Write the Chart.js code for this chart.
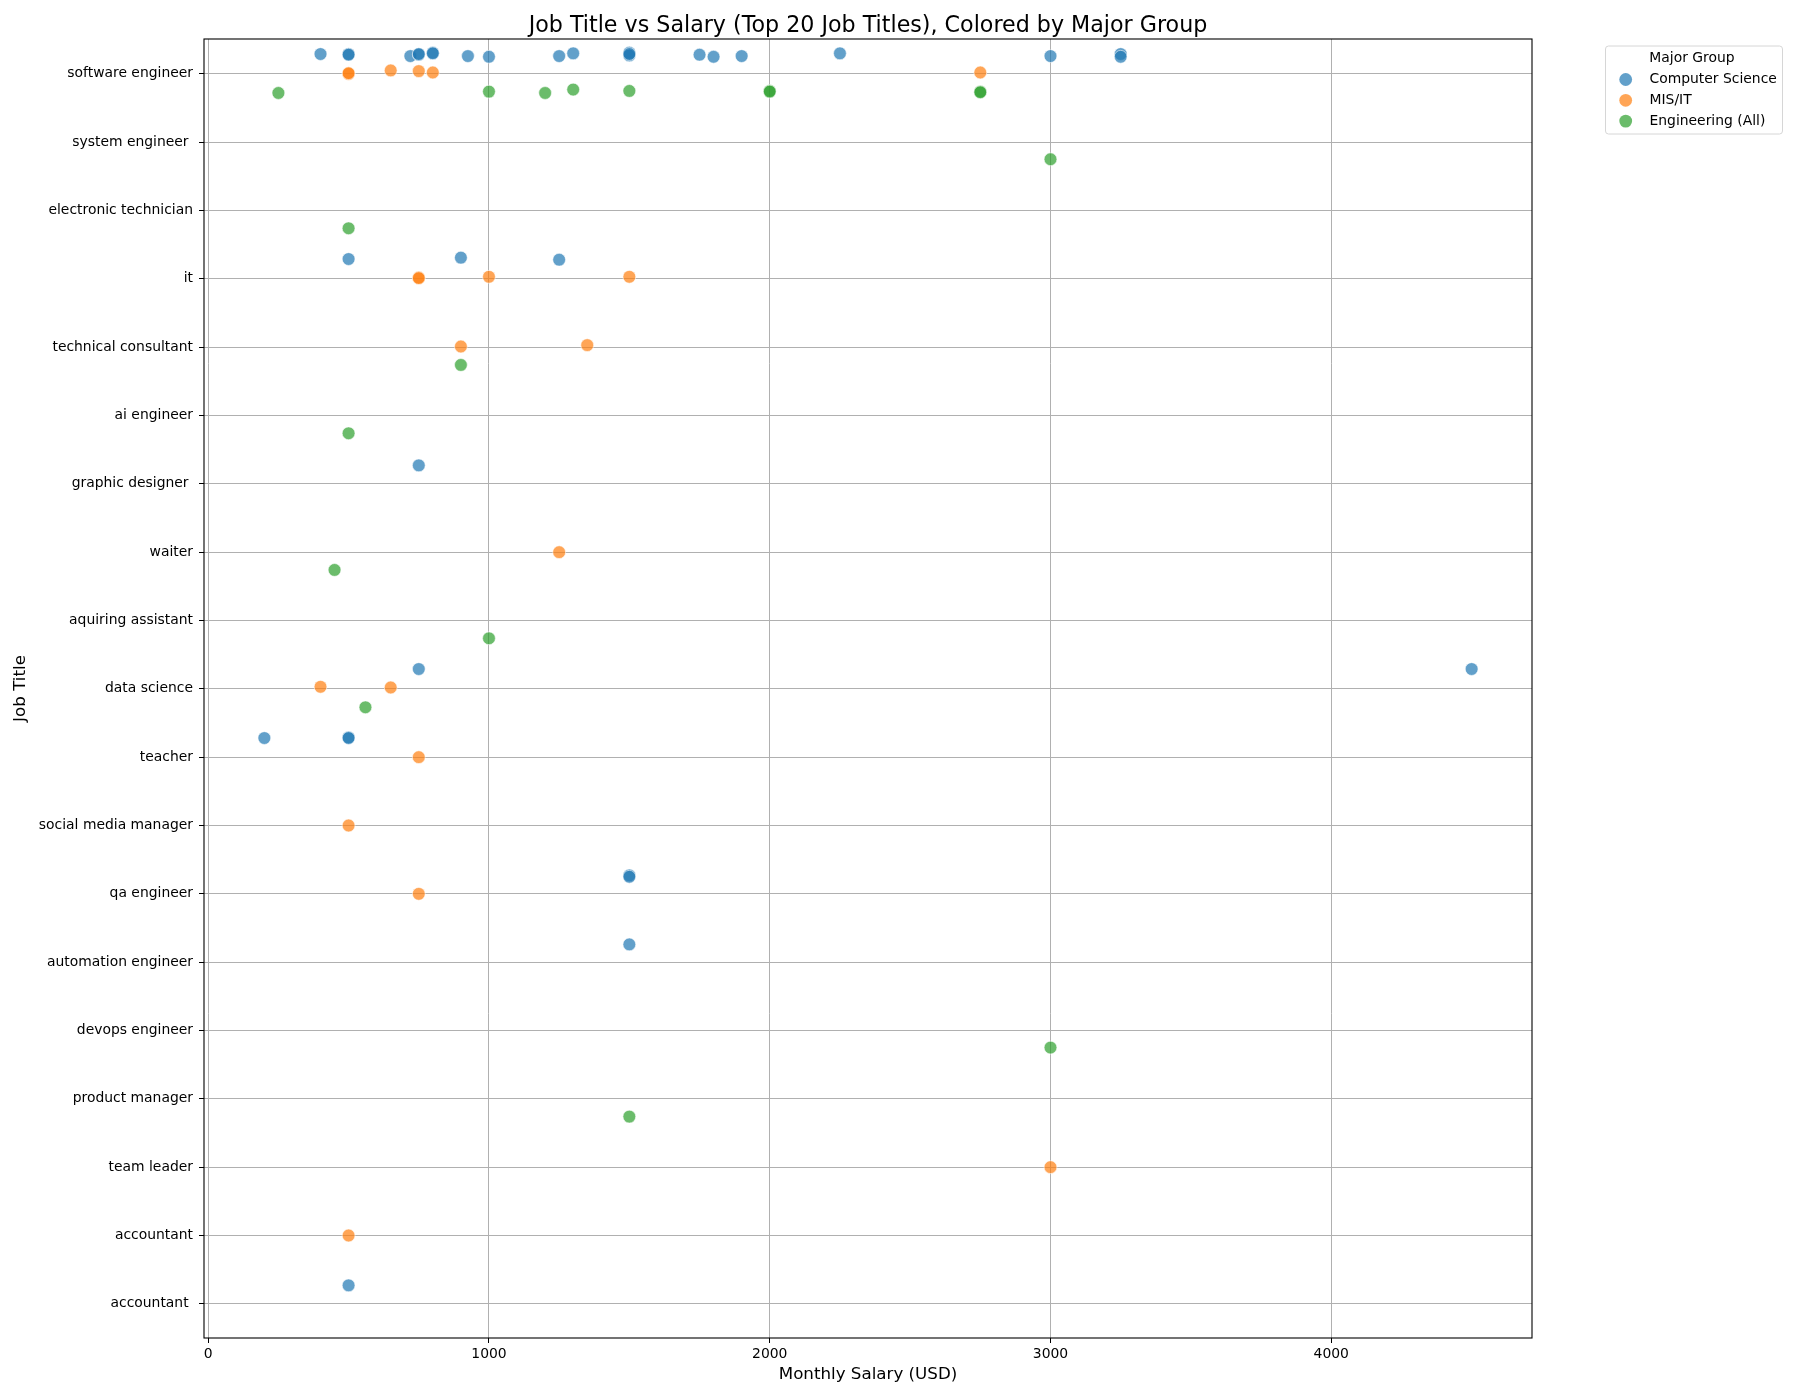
<!doctype html>
<html>
<head>
  <script src="https://cdn.jsdelivr.net/npm/chart.js@4.4.1/dist/chart.umd.min.js"></script>
  <style>
    body { margin: 0; background: #fff; }
  </style>
</head>
<body>
  <canvas id="canvas" width="1800" height="1400"></canvas>
  <script>
    // job titles, top to bottom (trailing spaces are in the source data)
    const jobTitles = [
      'software engineer', 'system engineer ', 'electronic technician', 'it',
      'technical consultant', 'ai engineer', 'graphic designer ', 'waiter',
      'aquiring assistant', 'data science', 'teacher', 'social media manager',
      'qa engineer', 'automation engineer', 'devops engineer', 'product manager',
      'team leader', 'accountant', 'accountant '
    ];
    const majorGroups = ['Computer Science', 'MIS/IT', 'Engineering (All)'];
    const salaryTicks = [0, 1000, 2000, 3000, 4000];

    // Computer Science
    const csSalary = [400, 500, 500, 720, 750, 750, 800, 800, 925, 1000, 1250, 1300, 1500, 1500, 1500,
      1750, 1800, 1900, 2250, 3000, 3250, 3250,
      500, 900, 1250, 750, 750, 4500, 200, 500, 500, 1500, 1500, 1500, 500];
    const csTitle = [0, 0, 0, 0, 0, 0, 0, 0, 0, 0, 0, 0, 0, 0, 0,
      0, 0, 0, 0, 0, 0, 0,
      3, 3, 3, 6, 9, 9, 10, 10, 10, 12, 12, 13, 18];
    const csJitter = [-0.29, -0.29, -0.28, -0.26, -0.28, -0.29, -0.31, -0.30, -0.26, -0.25, -0.26, -0.30, -0.31, -0.27, -0.29,
      -0.28, -0.25, -0.26, -0.30, -0.26, -0.29, -0.25,
      -0.29, -0.31, -0.28, -0.27, -0.29, -0.29, -0.28, -0.29, -0.28, -0.27, -0.25, -0.26, -0.27];

    // MIS/IT
    const misSalary = [500, 500, 650, 750, 800, 2750, 750, 750, 1000, 1500, 900, 1350, 1250, 400, 650, 750, 500, 750, 3000, 500];
    const misTitle = [0, 0, 0, 0, 0, 0, 3, 3, 3, 3, 4, 4, 7, 9, 9, 10, 11, 12, 16, 17];
    const misJitter = [0.00, -0.01, -0.05, -0.04, -0.02, -0.02, -0.02, -0.01, -0.03, -0.03, -0.01, -0.03, 0.00, -0.03, -0.02, 0.00, 0.00, 0.00, 0.00, 0.00];

    // Engineering (All)
    const engSalary = [250, 1000, 1200, 1300, 1500, 2000, 2000, 2750, 2750, 3000, 500, 900, 500, 450, 1000, 560, 3000, 1500];
    const engTitle = [0, 0, 0, 0, 0, 0, 0, 0, 0, 1, 2, 4, 5, 7, 8, 9, 14, 15];
    const engJitter = [0.28, 0.26, 0.28, 0.23, 0.25, 0.25, 0.26, 0.26, 0.27, 0.25, 0.26, 0.26, 0.26, 0.26, 0.26, 0.27, 0.25, 0.26];

    const groupColors = ['31, 119, 180', '255, 127, 14', '44, 160, 44'];
    const FONT = "'DejaVu Sans', sans-serif";

    function points(salary, title, jitter) {
      return salary.map((s, i) => ({ x: s, y: title[i] + jitter[i] }));
    }

    function series(i, data) {
      return {
        label: majorGroups[i],
        data: data,
        pointRadius: 6.4,
        pointHoverRadius: 6.4,
        pointBackgroundColor: 'rgba(' + groupColors[i] + ', 0.7)',
        pointBorderColor: 'rgba(255, 255, 255, 0.7)',
        pointBorderWidth: 0.8,
        order: i
      };
    }

    const decor = {
      id: 'decor',
      afterDatasetsDraw(chart) {
        const ctx = chart.ctx;
        const a = chart.chartArea;
        ctx.save();
        // frame
        ctx.strokeStyle = '#000';
        ctx.lineWidth = 1.1;
        ctx.strokeRect(a.left, a.top, a.right - a.left, a.bottom - a.top);

        // title
        ctx.fillStyle = '#000';
        ctx.font = '22.2px ' + FONT;
        ctx.textAlign = 'center';
        ctx.textBaseline = 'alphabetic';
        ctx.fillText('Job Title vs Salary (Top 20 Job Titles), Colored by Major Group', (a.left + a.right) / 2, 31.5);

        // legend
        const lx = 1605.5, ly = 46, lw = 177, lh = 88;
        ctx.beginPath();
        ctx.roundRect(lx, ly, lw, lh, 3);
        ctx.fillStyle = 'rgba(255, 255, 255, 0.8)';
        ctx.fill();
        ctx.strokeStyle = '#d6d6d6';
        ctx.lineWidth = 1;
        ctx.stroke();
        ctx.fillStyle = '#000';
        ctx.font = '13.9px ' + FONT;
        ctx.textAlign = 'center';
        ctx.textBaseline = 'middle';
        ctx.fillText('Major Group', 1692, 58.5);
        ctx.textAlign = 'left';
        majorGroups.forEach((g, i) => {
          const y = 79.5 + i * 20.8;
          ctx.beginPath();
          ctx.arc(1625.7, y, 6.4, 0, Math.PI * 2);
          ctx.fillStyle = 'rgba(' + groupColors[i] + ', 0.7)';
          ctx.fill();
          ctx.fillStyle = '#000';
          ctx.fillText(g, 1649.5, y);
        });
        ctx.restore();
      }
    };

    new Chart(document.getElementById('canvas').getContext('2d'), {
      type: 'scatter',
      data: {
        datasets: [
          series(0, points(csSalary, csTitle, csJitter)),
          series(1, points(misSalary, misTitle, misJitter)),
          series(2, points(engSalary, engTitle, engJitter))
        ]
      },
      options: {
        responsive: false,
        animation: false,
        devicePixelRatio: 1,
        layout: {
          padding: { left: 0, right: 268, top: 39, bottom: 0 }
        },
        scales: {
          x: {
            type: 'linear',
            min: -15,
            max: 4715,
            afterFit: (scale) => { scale.height = 62; },
            afterBuildTicks: (scale) => { scale.ticks = salaryTicks.map((v) => ({ value: v })); },
            grid: { color: '#b0b0b0', lineWidth: 1, tickColor: '#000', tickLength: 5 },
            border: { display: false },
            ticks: {
              color: '#000',
              font: { family: FONT, size: 13.9 },
              padding: 3,
              maxRotation: 0,
              callback: (v) => String(v)
            },
            title: {
              display: true,
              text: 'Monthly Salary (USD)',
              color: '#000',
              font: { family: FONT, size: 16.7 },
              padding: { top: 0, bottom: 15 }
            }
          },
          y: {
            type: 'linear',
            reverse: true,
            min: -0.51,
            max: 18.5,
            afterFit: (scale) => { scale.width = 204; },
            afterBuildTicks: (scale) => { scale.ticks = jobTitles.map((t, i) => ({ value: i })); },
            grid: { color: '#b0b0b0', lineWidth: 1, tickColor: '#000', tickLength: 5 },
            border: { display: false },
            ticks: {
              color: '#000',
              font: { family: FONT, size: 13.9 },
              padding: 6,
              callback: (v) => jobTitles[v]
            },
            title: {
              display: true,
              text: 'Job Title',
              color: '#000',
              font: { family: FONT, size: 16.7 },
              padding: { top: 10.7, bottom: 0 }
            }
          }
        },
        plugins: {
          legend: { display: false },
          title: { display: false },
          tooltip: { enabled: false }
        }
      },
      plugins: [decor]
    });
  </script>
</body>
</html>
